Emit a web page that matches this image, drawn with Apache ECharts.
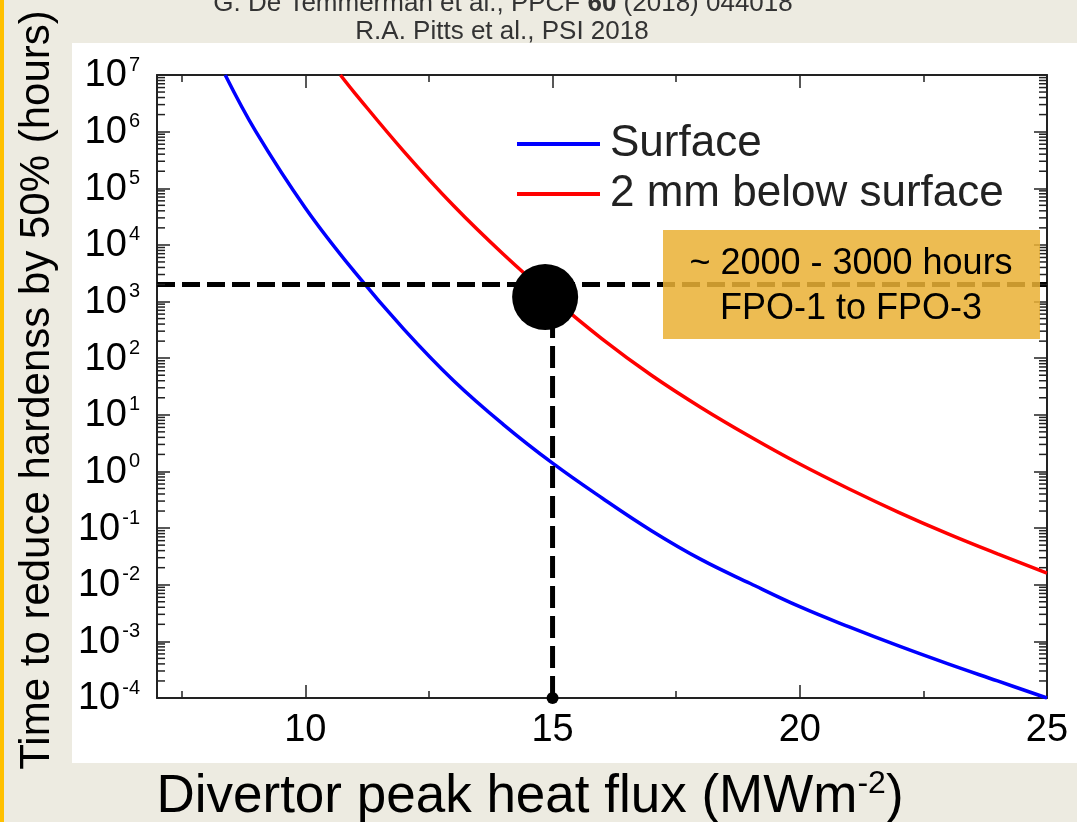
<!DOCTYPE html>
<html>
<head>
<meta charset="utf-8">
<script src="https://cdn.jsdelivr.net/npm/echarts@6/dist/echarts.min.js"></script>
<style>html,body{margin:0;padding:0;background:#EDEBE1;}#chart{width:1077px;height:822px;}</style>
</head>
<body>
<div id="chart"></div>
<script>
// ---- data ----
const surfaceFlux  = [8.38, 9, 10, 11, 12, 13, 14, 15, 16, 17, 18, 19, 20, 21, 22, 23, 24, 25];
const surfaceHours = [1e7, 1.0e6, 4.5e4, 3.3e3, 3.2e2, 40, 6.8, 1.4, 0.34, 0.09, 0.028, 0.0105, 0.0041, 0.0018, 8.3e-4, 4.0e-4, 2.0e-4, 1.0e-4];
const belowFlux    = [10.71, 11, 12, 13, 14, 15, 16, 17, 18, 19, 20, 21, 22, 23, 24, 25];
const belowHours   = [1e7, 4.8e6, 4.4e5, 4.9e4, 6.9e3, 1.15e3, 220, 50, 13.5, 4.1, 1.35, 0.49, 0.19, 0.079, 0.035, 0.016];
const xMajorTicks  = [10, 15, 20, 25];
const xMinorTicks  = [7.5, 12.5, 17.5, 22.5];
const xRange       = [7, 25];
const yRange       = [1e-4, 1e7];
const operatingFlux  = 15;
const operatingHours = 2000;
const bigDot         = [14.85, 1200];
const seriesNames  = ['Surface', '2 mm below surface'];

const FONT = '"Liberation Sans", Arial, Helvetica, sans-serif';

// y minor ticks (2..9 x 10^n)
const yMinor = [];
for (let n = -4; n < 7; n++) for (let k = 2; k <= 9; k++) yMinor.push([xRange[0], k * Math.pow(10, n)]);

const chart = echarts.init(document.getElementById('chart'));

function xAxisDef(pos, ticks, len, labels, line) {
  return {
    type: 'value', min: xRange[0], max: xRange[1], position: pos,
    axisLine: {show: line, onZero: false, lineStyle: {color: '#222', width: 2}},
    axisTick: {show: true, inside: true, length: len, customValues: ticks, lineStyle: {color: '#222', width: 1.5}},
    axisLabel: labels ? {show: true, customValues: xMajorTicks, fontSize: 38, color: '#000', fontFamily: FONT, margin: 14} : {show: false},
    splitLine: {show: false}
  };
}
function yAxisDef(pos, labels) {
  return {
    type: 'log', logBase: 10, min: yRange[0], max: yRange[1], splitNumber: 11, interval: 1, position: pos,
    axisLine: {show: true, onZero: false, lineStyle: {color: '#222', width: 2}},
    axisTick: {show: true, inside: true, length: 13, lineStyle: {color: '#222', width: 1.5}},
    axisLabel: labels ? {
      show: true, margin: 17, color: '#000', fontFamily: FONT, fontSize: 38,
      formatter: v => '{a|10}{b|' + Math.round(Math.log10(v)) + '}',
      rich: {
        a: {fontSize: 38, fontFamily: FONT, color: '#000', lineHeight: 40, verticalAlign: 'bottom'},
        b: {fontSize: 20, fontFamily: FONT, color: '#000', lineHeight: 18, verticalAlign: 'top', padding: [0, 0, 0, 2]}
      }
    } : {show: false},
    splitLine: {show: false}
  };
}

const option = {
  backgroundColor: '#EDEBE1',
  animation: false,
  grid: {left: 157, right: 30, top: 75, bottom: 124, containLabel: false},
  xAxis: [
    xAxisDef('bottom', xMajorTicks, 13, true, true),
    xAxisDef('bottom', xMinorTicks, 7, false, false),
    xAxisDef('top', xMajorTicks, 13, false, true),
    xAxisDef('top', xMinorTicks, 7, false, false)
  ],
  yAxis: [yAxisDef('left', true), yAxisDef('right', false)],
  legend: {
    orient: 'vertical', left: 517, top: 122, padding: 0, itemWidth: 83, itemHeight: 4, itemGap: 6, icon: 'rect',
    data: seriesNames,
    textStyle: {fontSize: 44, lineHeight: 42, color: '#222', fontFamily: FONT, padding: [0, 0, 0, 5]}
  },
  graphic: [
    {type: 'rect', z: -10, silent: true, shape: {x: 72, y: 43, width: 1005, height: 720}, style: {fill: '#FFFFFF'}},
    {type: 'rect', z: -10, silent: true, shape: {x: 0, y: 0, width: 4, height: 822}, style: {fill: '#FFC000'}},
    {type: 'text', z: 5, silent: true, style: {x: 503, y: 4, text: '{a|G. De Temmerman et al., PPCF }{b|60}{a| (2018) 044018}', align: 'center', verticalAlign: 'middle',
      rich: {a: {fontSize: 26, fontFamily: FONT, fill: '#333'}, b: {fontSize: 26, fontFamily: FONT, fontWeight: 'bold', fill: '#333'}}}},
    {type: 'text', z: 5, silent: true, style: {x: 502, y: 32, text: 'R.A. Pitts et al., PSI 2018', align: 'center', verticalAlign: 'middle', fontSize: 26, fontFamily: FONT, fill: '#333'}},
    {type: 'text', z: 5, silent: true, x: 37, y: 390, rotation: Math.PI / 2,
      style: {x: 0, y: 0, text: 'Time to reduce hardenss by 50% (hours)', align: 'center', verticalAlign: 'middle', fontSize: 42, fontFamily: FONT, fill: '#000'}},
    {type: 'text', z: 5, silent: true, style: {x: 530, y: 796, text: '{a|Divertor peak heat flux (MWm}{b|-2}{a|)}', align: 'center', verticalAlign: 'middle',
      rich: {a: {fontSize: 53, fontFamily: FONT, fill: '#000', lineHeight: 56, verticalAlign: 'bottom'}, b: {fontSize: 32, fontFamily: FONT, fill: '#000', lineHeight: 30, verticalAlign: 'top'}}}},
    {type: 'rect', z: 50, silent: true, shape: {x: 663, y: 230, width: 377, height: 109}, style: {fill: 'rgba(234,177,53,0.86)'}},
    {type: 'text', z: 51, silent: true, style: {x: 851, y: 264, text: '~ 2000 - 3000 hours', align: 'center', verticalAlign: 'middle', fontSize: 36, fontFamily: FONT, fill: '#000'}},
    {type: 'text', z: 51, silent: true, style: {x: 851, y: 309, text: 'FPO-1 to FPO-3', align: 'center', verticalAlign: 'middle', fontSize: 36, fontFamily: FONT, fill: '#000'}}
  ],
  series: [
    {
      name: seriesNames[0], type: 'line', smooth: 0.4, symbol: 'none', z: 3,
      lineStyle: {color: '#0000FF', width: 3.5}, itemStyle: {color: '#0000FF'},
      data: surfaceFlux.map((x, i) => [x, surfaceHours[i]])
    },
    {
      name: seriesNames[1], type: 'line', smooth: 0.4, symbol: 'none', z: 3,
      lineStyle: {color: '#FF0000', width: 3.5}, itemStyle: {color: '#FF0000'},
      data: belowFlux.map((x, i) => [x, belowHours[i]])
    },
    {
      type: 'line', symbol: 'none', z: 4, silent: true,
      lineStyle: {color: '#000', width: 5, type: [18, 7]},
      data: [[xRange[0], operatingHours], [xRange[1], operatingHours]]
    },
    {
      type: 'line', symbol: 'none', z: 4, silent: true,
      lineStyle: {color: '#000', width: 5, type: [22, 8]},
      data: [[operatingFlux, yRange[0]], [operatingFlux, bigDot[1]]]
    },
    {
      type: 'scatter', z: 6, silent: true, symbol: 'circle',
      symbolSize: (v, p) => p.dataIndex === 0 ? 66 : 12,
      itemStyle: {color: '#000', opacity: 1},
      data: [bigDot, [operatingFlux, yRange[0]]]
    },
    {
      type: 'custom', z: 7, silent: true,
      renderItem: (params, api) => {
        const v = api.value(1);
        const pl = api.coord([xRange[0], v]);
        const pr = api.coord([xRange[1], v]);
        const st = {stroke: '#222', lineWidth: 1.5};
        return {type: 'group', children: [
          {type: 'line', shape: {x1: pl[0], y1: pl[1], x2: pl[0] + 8, y2: pl[1]}, style: st},
          {type: 'line', shape: {x1: pr[0] - 8, y1: pr[1], x2: pr[0], y2: pr[1]}, style: st}
        ]};
      },
      data: yMinor
    }
  ]
};
chart.setOption(option);
</script>
</body>
</html>
